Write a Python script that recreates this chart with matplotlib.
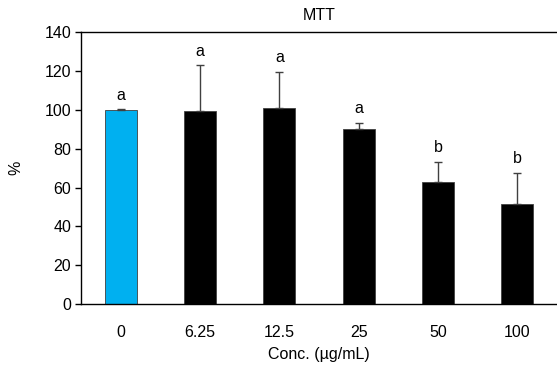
import matplotlib
matplotlib.use("Agg")
import matplotlib.pyplot as plt

plt.rcParams['font.family'] = ['Liberation Sans', 'DejaVu Sans']

# data
conc = ["0", "6.25", "12.5", "25", "50", "100"]
viability = [100, 99.4, 101.3, 90.1, 62.8, 51.4]
sd = [0.3, 23.6, 18.2, 3.4, 10.3, 16.0]
letters = ["a", "a", "a", "a", "b", "b"]
bar_colors = ["#00B0F0", "black", "black", "black", "black", "black"]

fs = 11.5

fig = plt.figure(figsize=(5.57, 3.69), dpi=100)
ax = fig.add_axes([0.1454, 0.1762, 0.8546, 0.7358])

x = range(len(conc))
ax.bar(x, viability, width=0.4, color=bar_colors, edgecolor="#404040", linewidth=0.6, zorder=2)
ax.errorbar(x, viability, yerr=[[0] * len(sd), sd], fmt="none", ecolor="#404040",
            elinewidth=1, capsize=3, capthick=1, zorder=3)

for i in x:
    ax.text(i, viability[i] + sd[i] + 3.5, letters[i], ha="center", va="bottom", fontsize=fs)

ax.set_xlim(-0.5, 5.5)
ax.set_ylim(0, 140)
ax.set_yticks(range(0, 141, 20))
ax.set_xticks(list(x))
ax.set_xticklabels(conc)
ax.tick_params(axis="x", length=0, pad=15, labelsize=fs)
ax.tick_params(axis="y", length=4, width=1, labelsize=fs, direction="out", pad=3)
ax.spines["right"].set_visible(False)
for s in ["left", "top", "bottom"]:
    ax.spines[s].set_linewidth(1)

ax.set_title("MTT", fontsize=fs, pad=9)
ax.set_xlabel("Conc. (\u00b5g/mL)", fontsize=fs, labelpad=5)
ax.set_ylabel("%", fontsize=fs, labelpad=15)

fig.savefig("out.png", dpi=100)
